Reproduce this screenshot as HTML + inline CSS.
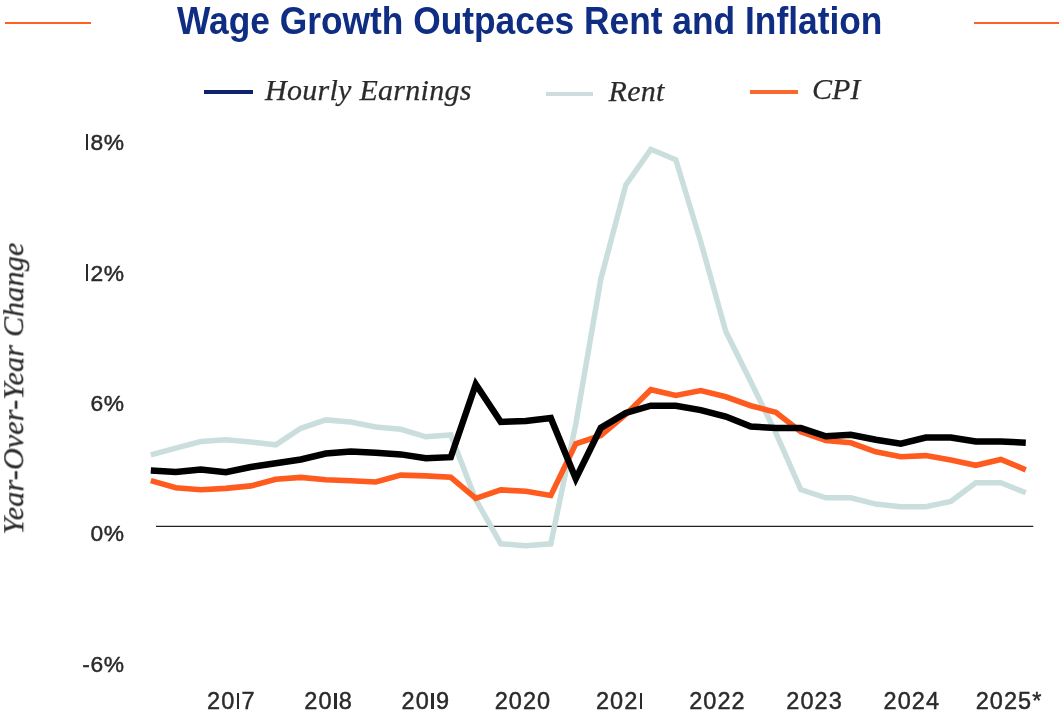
<!DOCTYPE html>
<html><head><meta charset="utf-8"><title>Wage Growth Outpaces Rent and Inflation</title>
<style>
html,body{margin:0;padding:0;background:#fff;}
body{width:1059px;height:716px;position:relative;overflow:hidden;font-family:"Liberation Sans",sans-serif;}
#title{position:absolute;left:177.0px;top:0.2px;white-space:nowrap;font-weight:bold;font-size:39.5px;line-height:40px;color:#0f2d82;transform-origin:0 0;transform:scaleX(0.8945);}
.rule{position:absolute;height:2px;background:#ff6124;top:21.6px;}
.lg{position:absolute;font-family:"Liberation Serif",serif;font-style:italic;font-size:30px;line-height:30px;letter-spacing:0.28px;-webkit-text-stroke:0.25px #2b2b2b;color:#2b2b2b;white-space:nowrap;transform-origin:0 0;}
.ll{position:absolute;height:4px;}
#ylab{position:absolute;left:0;top:0;font-family:"Liberation Serif",serif;font-style:italic;font-size:30px;line-height:30px;letter-spacing:0.22px;-webkit-text-stroke:0.25px #2b2b2b;color:#2b2b2b;white-space:nowrap;transform-origin:0 0;transform:translate(-1.8px,534.5px) rotate(-90deg);}
.yl{position:absolute;left:24px;width:100.6px;text-align:right;font-size:22.8px;letter-spacing:0.6px;-webkit-text-stroke:0.45px #2a2a2a;line-height:28px;height:28px;color:#2a2a2a;white-space:nowrap;}
.xl{position:absolute;top:687.4px;-webkit-text-stroke:0.45px #2a2a2a;width:120px;text-align:center;font-size:23.5px;line-height:28px;color:#2a2a2a;white-space:nowrap;letter-spacing:1.05px;}
i.o{font-style:normal;display:inline-block;font-size:0;width:2.5px;margin:0 2.2px 0 1.5px;background:#2a2a2a;vertical-align:baseline;overflow:hidden;}
.yl i.o{height:16.2px;}
.xl i.o{height:16.8px;}
svg{position:absolute;left:0;top:0;}
body>*{filter:blur(0.5px);}
</style></head><body>
<div class="rule" style="left:4.7px;width:86.4px"></div>
<div class="rule" style="left:974.1px;width:85px"></div>
<div id="title">Wage Growth Outpaces Rent and Inflation</div>
<div class="ll" style="left:204.2px;top:90.2px;width:48.7px;background:#0f2270"></div>
<div class="lg" id="lg1" style="left:265px;top:74.8px">Hourly Earnings</div>
<div class="ll" style="left:545.9px;top:92.4px;width:47.6px;background:#cddcdc"></div>
<div class="lg" id="lg2" style="left:608.6px;top:76.3px">Rent</div>
<div class="ll" style="left:749.8px;top:90.1px;width:47.9px;background:#f9682c"></div>
<div class="lg" id="lg3" style="left:812px;top:74.4px;letter-spacing:0">CPI</div>
<div id="ylab">Year-Over-Year Change</div>
<div class="yl" style="top:128.2px"><i class="o">1</i>8%</div><div class="yl" style="top:258.6px"><i class="o">1</i>2%</div><div class="yl" style="top:389.0px">6%</div><div class="yl" style="top:519.4px">0%</div><div class="yl" style="top:649.8px">-6%</div>
<div class="xl" style="left:171.4px">20<i class="o">1</i>7</div><div class="xl" style="left:268.6px">20<i class="o">1</i>8</div><div class="xl" style="left:365.8px">20<i class="o">1</i>9</div><div class="xl" style="left:463.0px">2020</div><div class="xl" style="left:560.2px">202<i class="o">1</i></div><div class="xl" style="left:657.4px">2022</div><div class="xl" style="left:754.6px">2023</div><div class="xl" style="left:851.8px">2024</div><div class="xl" style="left:949.0px">2025*</div>
<svg width="1059" height="716" viewBox="0 0 1059 716">
<line x1="156" y1="526.4" x2="1033.3" y2="526.4" stroke="#222" stroke-width="1.3"/>
<g fill="none" stroke-linejoin="miter" stroke-miterlimit="10" stroke-linecap="butt">
<polyline id="rent" stroke="#cbdede" stroke-width="5.5" points="150.8,454.8 175.8,448.1 200.8,441.5 225.8,439.7 250.8,441.9 275.8,444.8 300.8,428.3 325.8,419.9 350.8,422.0 375.8,427.0 400.8,429.3 425.8,436.8 450.8,434.9 475.8,499.7 500.8,543.8 525.8,545.7 550.8,543.8 575.8,424.0 600.8,279.2 625.8,184.9 650.8,149.3 675.8,159.8 700.8,241.9 725.8,331.6 750.8,381.8 775.8,432.9 800.8,489.5 825.8,497.8 850.8,497.8 875.8,504.1 900.8,506.8 925.8,506.8 950.8,501.4 975.8,482.7 1000.8,482.7 1025.8,492.8"/>
<polyline id="cpi" stroke="#ff5b1f" stroke-width="5.6" points="150.8,480.6 175.8,487.8 200.8,489.7 225.8,488.4 250.8,485.9 275.8,479.3 300.8,477.4 325.8,479.7 350.8,480.7 375.8,482.0 400.8,475.1 425.8,475.9 450.8,477.3 475.8,498.3 500.8,489.9 525.8,491.3 550.8,495.5 575.8,443.8 600.8,435.4 625.8,414.5 650.8,389.7 675.8,395.5 700.8,390.5 725.8,396.8 750.8,405.7 775.8,412.3 800.8,431.7 825.8,440.5 850.8,442.8 875.8,451.8 900.8,456.7 925.8,455.6 950.8,460.1 975.8,465.3 1000.8,459.4 1025.8,469.8"/>
<polyline id="earn" stroke="#000" stroke-width="6.5" points="150.8,470.4 175.8,472.1 200.8,469.5 225.8,472.3 250.8,467.0 275.8,463.3 300.8,459.5 325.8,453.5 350.8,451.6 375.8,452.7 400.8,454.4 425.8,458.3 450.8,457.2 475.8,384.3 500.8,422.0 525.8,420.9 550.8,418.1 575.8,478.7 600.8,427.9 625.8,413.0 650.8,405.7 675.8,405.8 700.8,410.1 725.8,416.6 750.8,426.6 775.8,427.9 800.8,427.9 825.8,436.3 850.8,434.7 875.8,439.8 900.8,443.6 925.8,437.5 950.8,437.5 975.8,441.4 1000.8,441.4 1025.8,442.7"/>
</g>
</svg>
</body></html>
